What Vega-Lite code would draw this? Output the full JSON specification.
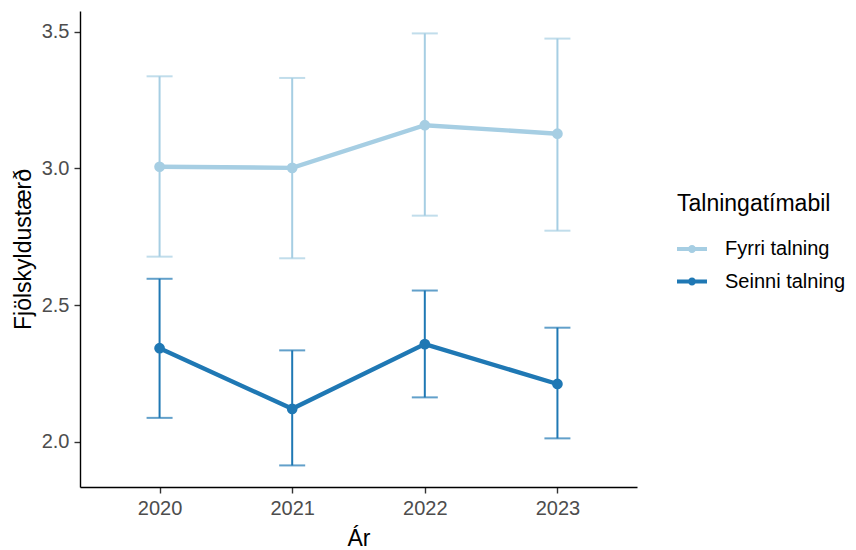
{
  "$schema": "https://vega.github.io/schema/vega-lite/v6.json",
  "autosize": {"type": "none"},
  "width": 557,
  "height": 476,
  "padding": {"left": 80, "top": 11, "right": 219, "bottom": 63},
  "background": "white",
  "config": {
    "view": {"stroke": null},
    "font": "Liberation Sans",
    "axis": {
      "grid": false,
      "domainColor": "#000000",
      "domainWidth": 1.4,
      "tickColor": "#333333",
      "tickWidth": 1.4,
      "tickSize": 6,
      "labelPadding": 5,
      "labelFont": "Liberation Sans",
      "labelFontSize": 20,
      "labelColor": "#4d4d4d",
      "titleFont": "Liberation Sans",
      "titleFontSize": 23,
      "titleFontWeight": "normal",
      "titleColor": "#000000"
    }
  },
  "data": {
    "values": [
      {"year": "2020", "period": "Fyrri talning", "mean": 3.006, "lo": 2.677, "hi": 3.337},
      {"year": "2021", "period": "Fyrri talning", "mean": 3.002, "lo": 2.671, "hi": 3.331},
      {"year": "2022", "period": "Fyrri talning", "mean": 3.158, "lo": 2.827, "hi": 3.494},
      {"year": "2023", "period": "Fyrri talning", "mean": 3.127, "lo": 2.772, "hi": 3.475},
      {"year": "2020", "period": "Seinni talning", "mean": 2.342, "lo": 2.087, "hi": 2.596},
      {"year": "2021", "period": "Seinni talning", "mean": 2.120, "lo": 1.913, "hi": 2.334},
      {"year": "2022", "period": "Seinni talning", "mean": 2.357, "lo": 2.162, "hi": 2.553},
      {"year": "2023", "period": "Seinni talning", "mean": 2.211, "lo": 2.012, "hi": 2.417}
    ]
  },
  "encoding": {
    "x": {
      "field": "year",
      "type": "ordinal",
      "scale": {"type": "point", "padding": 0.6},
      "axis": {"title": "Ár", "labelAngle": 0, "titlePadding": 9}
    },
    "color": {
      "field": "period",
      "type": "nominal",
      "scale": {"domain": ["Fyrri talning", "Seinni talning"], "range": ["#a6cee3", "#1f78b4"]},
      "legend": {
        "title": "Talningatímabil",
        "orient": "none",
        "legendX": 597,
        "legendY": 182,
        "padding": 0,
        "titleFont": "Liberation Sans",
        "titleFontSize": 23,
        "titleFontWeight": "normal",
        "titleColor": "#000000",
        "titlePadding": 18,
        "labelFont": "Liberation Sans",
        "labelFontSize": 20,
        "labelColor": "#000000",
        "labelOffset": 18,
        "rowPadding": 7.5,
        "symbolSize": 900,
        "symbolType": "M-1,-0.13 L1,-0.13 L1,0.13 L-1,0.13 Z M-0.27,0 A0.27,0.27 0 1,1 0.27,0 A0.27,0.27 0 1,1 -0.27,0 Z",
        "symbolStrokeWidth": 0,
        "encode": {
          "symbols": {
            "update": {
              "fill": {"scale": "color", "field": "value"},
              "fillOpacity": {"value": 1},
              "strokeWidth": {"value": 0},
              "opacity": {"value": 1}
            }
          }
        }
      }
    }
  },
  "layer": [
    {
      "mark": {"type": "rule", "strokeWidth": 2},
      "encoding": {
        "y": {
          "field": "lo",
          "type": "quantitative",
          "scale": {"domain": [1.834, 3.576], "nice": false, "zero": false},
          "axis": {"title": "Fjölskyldustærð", "values": [2.0, 2.5, 3.0, 3.5], "format": ".1f", "titlePadding": 6}
        },
        "y2": {"field": "hi"}
      }
    },
    {
      "mark": {"type": "tick", "thickness": 2, "size": 26},
      "encoding": {"y": {"field": "lo", "type": "quantitative"}}
    },
    {
      "mark": {"type": "tick", "thickness": 2, "size": 26},
      "encoding": {"y": {"field": "hi", "type": "quantitative"}}
    },
    {
      "mark": {"type": "line", "strokeWidth": 4.4},
      "encoding": {"y": {"field": "mean", "type": "quantitative"}}
    },
    {
      "mark": {"type": "point", "filled": true, "size": 115, "opacity": 1, "strokeWidth": 0},
      "encoding": {"y": {"field": "mean", "type": "quantitative"}}
    }
  ]
}
